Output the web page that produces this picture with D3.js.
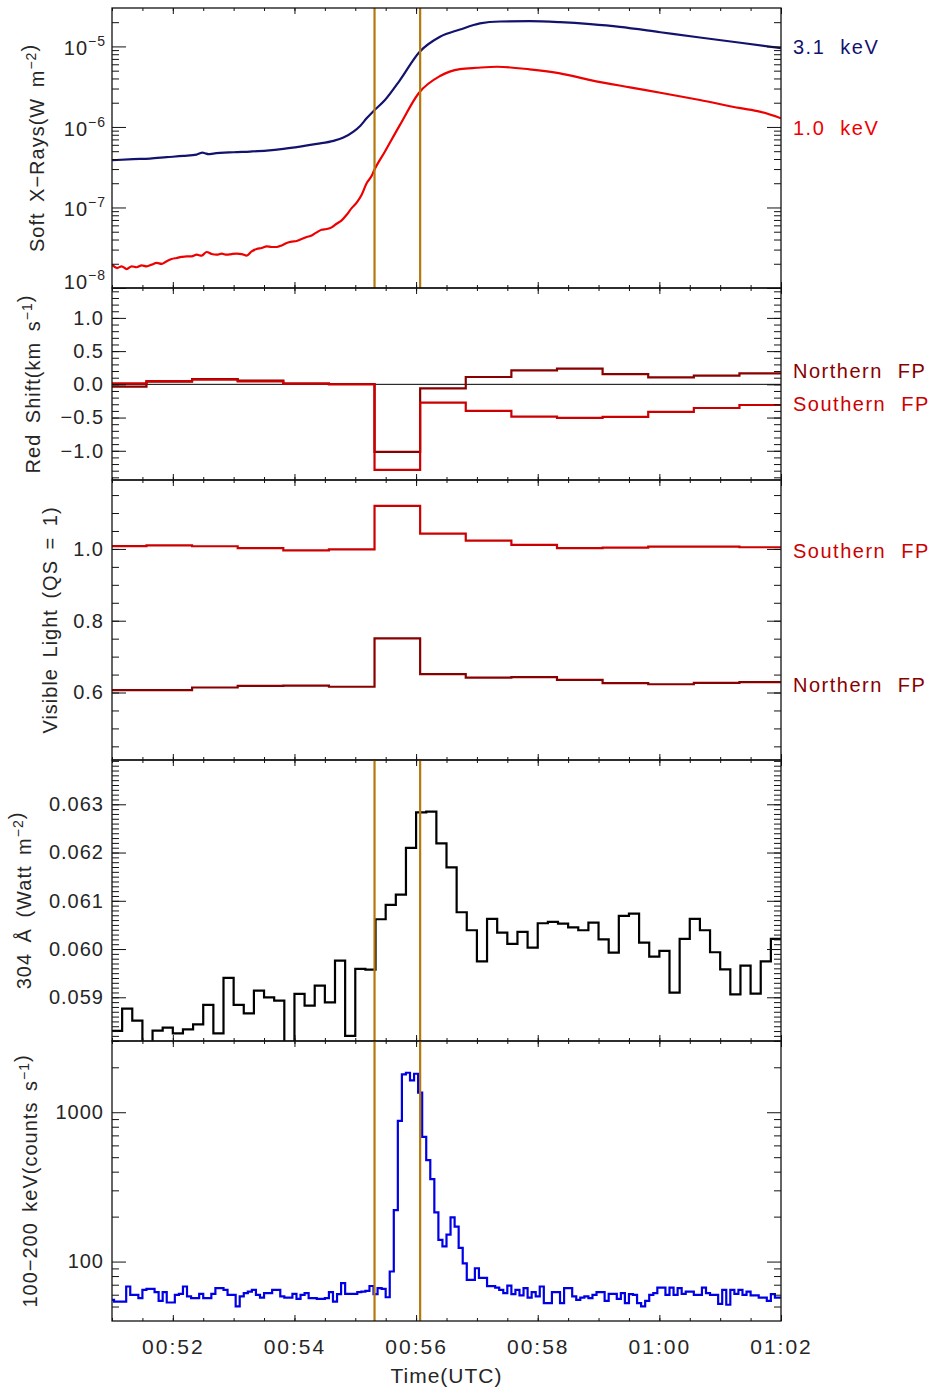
<!DOCTYPE html>
<html>
<head>
<meta charset="utf-8">
<title>Flare light curves</title>
<script src="https://cdn.jsdelivr.net/npm/d3@7"></script>
<style>
  body { margin: 0; background: #fff; }
  text { font-family: "Liberation Sans", Arial, sans-serif; fill: #262626; }
</style>
</head>
<body>
<svg id="chart" width="935" height="1392"></svg>
<script>
// ---------------- data ----------------
const startTime = "00:51:00";
const endTime = "01:02:00";
const xMajorTicks = ["00:52:00", "00:54:00", "00:56:00", "00:58:00", "01:00:00", "01:02:00"];
const flareLines = ["00:55:19", "00:56:04"];

// GOES soft X-rays (seconds after 00:51:00, W m^-2)
const goesHighSec = [0, 20.9, 37.4, 53.9, 70.4, 83.5, 86.8, 89.1, 91.8, 95.1, 100, 119.8, 136.2, 152.6, 169.1,
  185.5, 202, 218.4, 228.3, 238.2, 244.8, 251.2, 258.1, 269.3, 284.1, 302.9, 323.6, 343.3, 363, 383, 412,
  442, 472, 501, 541, 580, 620, 660];
const goesHighFlux = [3.86e-7, 3.98e-7, 4.05e-7, 4.21e-7, 4.37e-7, 4.54e-7, 4.72e-7, 4.81e-7, 4.72e-7, 4.59e-7,
  4.67e-7, 4.85e-7, 4.95e-7, 5.09e-7, 5.34e-7, 5.70e-7, 6.15e-7, 6.71e-7, 7.38e-7, 8.75e-7, 1.03e-6, 1.28e-6,
  1.58e-6, 2.16e-6, 3.82e-6, 8.42e-6, 1.32e-5, 1.62e-5, 1.93e-5, 2.04e-5, 2.06e-5, 2.00e-5, 1.89e-5, 1.75e-5,
  1.50e-5, 1.29e-5, 1.11e-5, 9.53e-6];

const goesLowSec = [0, 5, 9.5, 14.5, 19.4, 24.3, 29.3, 34.2, 39.1, 44.1, 49, 53.9, 58.9, 63.8, 68.7, 73.7, 78.6,
  83.5, 88.5, 93.4, 98.3, 103.3, 108.2, 113.1, 118.1, 123, 127.9, 132.9, 137.8, 142.7, 147.7, 152.6, 157.5,
  162.4, 167.4, 172.3, 177.2, 182.2, 187.1, 192, 197, 201.9, 206.8, 211.8, 216.7, 221.6, 226.6, 231.5, 236.4,
  241.4, 246.3, 251.2, 256.2, 258.1, 269.3, 284.1, 302.9, 323.6, 343.3, 360, 380, 412, 442, 472, 511, 541,
  580, 620, 639, 660];
const goesLowFlux = [1.95e-8, 1.77e-8, 1.86e-8, 1.72e-8, 1.86e-8, 1.81e-8, 1.91e-8, 1.86e-8, 1.95e-8, 2.05e-8,
  1.99e-8, 2.15e-8, 2.29e-8, 2.36e-8, 2.43e-8, 2.47e-8, 2.47e-8, 2.59e-8, 2.52e-8, 2.80e-8, 2.64e-8, 2.59e-8,
  2.67e-8, 2.59e-8, 2.64e-8, 2.67e-8, 2.64e-8, 2.52e-8, 2.85e-8, 3.05e-8, 3.14e-8, 3.29e-8, 3.23e-8, 3.23e-8,
  3.38e-8, 3.62e-8, 3.76e-8, 3.83e-8, 4.06e-8, 4.29e-8, 4.50e-8, 4.91e-8, 5.29e-8, 5.40e-8, 5.66e-8, 6.28e-8,
  6.91e-8, 8.12e-8, 9.82e-8, 1.15e-7, 1.44e-7, 2.00e-7, 2.47e-7, 2.80e-7, 4.95e-7, 1.06e-6, 2.66e-6, 4.29e-6,
  5.23e-6, 5.43e-6, 5.59e-6, 5.19e-6, 4.63e-6, 3.82e-6, 3.10e-6, 2.66e-6, 2.16e-6, 1.71e-6, 1.55e-6, 1.28e-6];

// HMI footpoints, 45 s bins (bin start times)
const hmiCadence = 45;
const hmiStarts = ["00:50:49", "00:51:34", "00:52:19", "00:53:04", "00:53:49", "00:54:34", "00:55:19", "00:56:04",
  "00:56:49", "00:57:34", "00:58:19", "00:59:04", "00:59:49", "01:00:34", "01:01:19"];
const northShift = [-0.035, 0.04, 0.08, 0.055, 0.01, 0.005, -1.017, -0.06, 0.11, 0.21, 0.235, 0.155, 0.105, 0.13, 0.165];
const southShift = [0.015, 0.05, 0.07, 0.045, 0.01, 0.0, -1.287, -0.276, -0.40, -0.486, -0.506, -0.49, -0.416, -0.356, -0.311];
const southVisible = [1.008, 1.010, 1.0075, 1.002, 0.996, 0.999, 1.12, 1.0425, 1.023, 1.011, 1.002, 1.0036, 1.0064, 1.0064, 1.0047];
const northVisible = [0.6067, 0.6067, 0.614, 0.6186, 0.6194, 0.616, 0.751, 0.651, 0.6417, 0.6428, 0.635, 0.626, 0.623, 0.627, 0.629];

// EVE 304 A, 10 s bins from 00:51:00 (W m^-2)
const euvCadence = 10;
const euv304 = [0.058302, 0.058765, 0.058516, 0.0579, 0.058309, 0.058370, 0.058254, 0.058337, 0.058440, 0.058841,
  0.058254, 0.059401, 0.058841, 0.058668, 0.059138, 0.059000, 0.058931, 0.0579, 0.059069, 0.058827,
  0.059242, 0.058896, 0.059760, 0.058199, 0.059587, 0.059573, 0.060617, 0.060914, 0.061128, 0.062095,
  0.062834, 0.062848, 0.062192, 0.061694, 0.060762, 0.060389, 0.059746, 0.060624, 0.060340, 0.060105,
  0.060354, 0.060029, 0.060534, 0.060561, 0.060527, 0.060451, 0.060389, 0.060548, 0.060202, 0.059926,
  0.060686, 0.060734, 0.060133, 0.059843, 0.059960, 0.059097, 0.060209, 0.060624, 0.060389, 0.059933,
  0.059580, 0.059062, 0.059656, 0.059076, 0.059746, 0.060209];

// RHESSI 100-200 keV, 4 s samples from 00:51:00 (counts s^-1)
const hxrCadence = 4;
const hxrCounts = [55.4, 54.0, 54.0, 54.0, 68.1, 59.9, 59.9, 56.9, 64.6, 65.7,
  65.7, 62.4, 54.6, 62.4, 53.2, 53.2, 59.9, 60.8, 68.1, 58.4,
  56.9, 56.9, 60.8, 56.9, 56.9, 60.8, 66.4, 66.4, 64.6, 59.9,
  59.9, 50.1, 58.4, 61.4, 63.0, 64.6, 59.9, 57.4, 61.4, 61.4,
  64.6, 64.6, 58.4, 57.4, 57.4, 60.8, 56.3, 59.9, 61.4, 56.9,
  56.9, 56.3, 56.3, 56.9, 62.4, 54.0, 60.5, 71.7, 60.8, 60.8,
  60.8, 62.4, 63.0, 63.6, 68.6, 60.5, 66.4, 65.7, 57.7, 85.8,
  221, 875, 1794, 1839, 1636, 1810, 1352, 684, 478, 357,
  213.5, 139.6, 126.6, 151.4, 197.7, 171.3, 123.7, 97.4, 75.4, 75.4,
  90.2, 77.8, 77.8, 68.4, 68.4, 66.9, 64.6, 61.4, 69.0, 60.5,
  64.6, 59.4, 66.4, 57.4, 62.4, 58.4, 68.1, 52.7, 52.7, 62.4,
  62.4, 52.7, 66.4, 66.4, 58.4, 55.4, 57.4, 58.4, 56.9, 59.9,
  62.4, 62.4, 54.6, 60.8, 60.8, 56.3, 61.4, 52.7, 60.5, 59.9,
  52.7, 50.1, 54.6, 59.9, 61.4, 67.0, 67.0, 59.9, 67.0, 59.9,
  66.4, 60.8, 63.0, 63.0, 59.9, 59.9, 67.0, 61.4, 59.9, 59.9,
  52.1, 64.6, 51.4, 64.6, 60.8, 64.6, 59.9, 63.0, 59.4, 59.4,
  57.4, 57.4, 54.6, 60.5, 57.4, 57.4];

// ---------------- layout ----------------
const colors = { navy: "#13136e", red: "#ee0000", north: "#880000", south: "#cc0000",
  euv: "#000000", hxr: "#0000e6", marker: "#b5780c" };
const plotLeft = 112, plotRight = 781;
const xMajorLen = 6, xMinorLen = 3, yMajorLen = 14, yMinorLen = 7;

const svg = d3.select("#chart");
const defs = svg.append("defs");
const parse = d3.utcParse("%H:%M:%S");
const t0 = parse(startTime);
const atSec = s => new Date(t0.getTime() + s * 1000);

const x = d3.scaleUtc().domain([t0, parse(endTime)]).range([plotLeft, plotRight]);
const xMajor = xMajorTicks.map(parse);
const xMinor = x.ticks(d3.utcSecond.every(30));

function makePanel(id, top, bottom) {
  defs.append("clipPath").attr("id", "clip-" + id)
    .append("rect").attr("x", plotLeft).attr("y", top)
    .attr("width", plotRight - plotLeft).attr("height", bottom - top);
  const g = svg.append("g").attr("class", "panel " + id);
  const plot = g.append("g").attr("clip-path", `url(#clip-${id})`);
  return { id, top, bottom, g, plot };
}

function styleAxis(sel, size, spacing) {
  sel.select(".domain").remove();
  sel.attr("font-size", null).attr("font-family", null);
  sel.selectAll("line").attr("stroke", "#111");
  sel.selectAll("text").style("font-size", size + "px").style("letter-spacing", spacing + "px").attr("fill", "#262626");
}

function drawAxes(p, y, yMajor, yMinor, yFormat, showXLabels) {
  const g = p.g;
  // x ticks, bottom and top, pointing inwards
  g.append("g").attr("transform", `translate(0,${p.bottom})`)
    .call(d3.axisBottom(x).tickValues(xMinor).tickSize(-xMinorLen).tickFormat(""))
    .call(a => styleAxis(a, 21, 2));
  g.append("g").attr("transform", `translate(0,${p.bottom})`)
    .call(d3.axisBottom(x).tickValues(xMajor).tickSize(-xMajorLen).tickPadding(18)
      .tickFormat(showXLabels ? d3.utcFormat("%H:%M") : ""))
    .call(a => styleAxis(a, 21, 2));
  g.append("g").attr("transform", `translate(0,${p.top})`)
    .call(d3.axisTop(x).tickValues(xMinor).tickSize(-xMinorLen).tickFormat(""))
    .call(a => styleAxis(a, 21, 2));
  g.append("g").attr("transform", `translate(0,${p.top})`)
    .call(d3.axisTop(x).tickValues(xMajor).tickSize(-xMajorLen).tickFormat(""))
    .call(a => styleAxis(a, 21, 2));

  // y ticks, left and right, pointing inwards
  g.append("g").attr("transform", `translate(${plotLeft},0)`)
    .call(d3.axisLeft(y).tickValues(yMinor).tickSize(-yMinorLen).tickFormat(""))
    .call(a => styleAxis(a, 20, 1));
  g.append("g").attr("transform", `translate(${plotLeft},0)`)
    .call(d3.axisLeft(y).tickValues(yMajor).tickSize(-yMajorLen).tickPadding(8).tickFormat(yFormat || ""))
    .call(a => styleAxis(a, 20, 1));
  g.append("g").attr("transform", `translate(${plotRight},0)`)
    .call(d3.axisRight(y).tickValues(yMinor).tickSize(-yMinorLen).tickFormat(""))
    .call(a => styleAxis(a, 20, 1));
  g.append("g").attr("transform", `translate(${plotRight},0)`)
    .call(d3.axisRight(y).tickValues(yMajor).tickSize(-yMajorLen).tickFormat(""))
    .call(a => styleAxis(a, 20, 1));

  g.append("rect")
    .attr("x", plotLeft).attr("y", p.top)
    .attr("width", plotRight - plotLeft).attr("height", p.bottom - p.top)
    .attr("fill", "none").attr("stroke", "#111").attr("stroke-width", 1.3);
}

// parts: plain strings, or ["sup", text] for a superscript
function yTitle(p, baselineX, parts) {
  const cy = (p.top + p.bottom) / 2;
  const t = p.g.append("text")
    .attr("transform", `translate(${baselineX},${cy}) rotate(-90)`)
    .attr("text-anchor", "middle")
    .style("font-size", "20px").style("letter-spacing", "1px").style("word-spacing", "4px");
  parts.forEach(part => {
    if (Array.isArray(part)) {
      t.append("tspan").attr("dy", -8).style("font-size", "14px").text(part[1]);
      t.append("tspan").attr("dy", 8).text("");
    } else {
      t.append("tspan").text(part);
    }
  });
}

function sideLabel(p, yPos, text, color) {
  p.g.append("text")
    .attr("x", plotRight + 12).attr("y", yPos)
    .attr("fill", color).style("fill", color)
    .style("font-size", "20px").style("letter-spacing", "1.5px").style("word-spacing", "8px")
    .text(text);
}

function markers(p) {
  p.plot.selectAll("line.marker")
    .data(flareLines.map(parse))
    .join("line")
    .attr("class", "marker")
    .attr("x1", d => x(d)).attr("x2", d => x(d))
    .attr("y1", p.top).attr("y2", p.bottom)
    .attr("stroke", colors.marker).attr("stroke-width", 2.2);
}

function hmiSteps(values) {
  const pts = hmiStarts.map((s, i) => [parse(s), values[i]]);
  const last = pts[pts.length - 1];
  pts.push([new Date(last[0].getTime() + hmiCadence * 1000), last[1]]);
  return pts;
}

// ---------------- panel 1: GOES ----------------
const p1 = makePanel("goes", 8, 288);
const y1 = d3.scaleLog().domain([1e-8, 3e-5]).range([p1.bottom, p1.top]);
const y1Major = [1e-8, 1e-7, 1e-6, 1e-5];
const y1Minor = [];
[1e-8, 1e-7, 1e-6, 1e-5].forEach(dec => d3.range(2, 10).forEach(m => { if (m * dec <= 3e-5) y1Minor.push(m * dec); }));
drawAxes(p1, y1, y1Major, y1Minor, null, false);
y1Major.forEach(v => {
  const t = p1.g.append("text")
    .attr("x", 106).attr("y", y1(v) + 9 - (v === 1e-8 ? 8 : 0))
    .attr("text-anchor", "end")
    .style("font-size", "20px").style("letter-spacing", "1px");
  t.append("tspan").text("10");
  t.append("tspan").attr("dy", -9).style("font-size", "14px").text("−" + Math.round(-Math.log10(v)));
});

const goesLine = d3.line().x(d => x(d[0])).y(d => y1(d[1])).curve(d3.curveMonotoneX);
p1.plot.append("path")
  .datum(goesHighSec.map((s, i) => [atSec(s), goesHighFlux[i]]))
  .attr("d", goesLine).attr("fill", "none").attr("stroke", colors.navy).attr("stroke-width", 2.2);
p1.plot.append("path")
  .datum(goesLowSec.map((s, i) => [atSec(s), goesLowFlux[i]]))
  .attr("d", goesLine).attr("fill", "none").attr("stroke", colors.red).attr("stroke-width", 2.2);
markers(p1);
yTitle(p1, 44, ["Soft X−Rays(W m", ["sup", "−2"], ")"]);
sideLabel(p1, y1(goesHighFlux[goesHighFlux.length - 1]) + 6, "3.1 keV", colors.navy);
sideLabel(p1, y1(goesLowFlux[goesLowFlux.length - 1]) + 17, "1.0 keV", colors.red);

// ---------------- panel 2: Doppler shift ----------------
const p2 = makePanel("doppler", 288, 480);
const y2 = d3.scaleLinear().domain([-1.44, 1.45]).range([p2.bottom, p2.top]);
const y2Major = [-1.0, -0.5, 0.0, 0.5, 1.0];
const y2Minor = d3.range(-14, 15).map(d => d / 10);
drawAxes(p2, y2, y2Major, y2Minor, d3.format(".1f"), false);
p2.plot.append("line")
  .attr("x1", plotLeft).attr("x2", plotRight)
  .attr("y1", y2(0)).attr("y2", y2(0))
  .attr("stroke", "#000").attr("stroke-width", 1);
const stepLine2 = d3.line().x(d => x(d[0])).y(d => y2(d[1])).curve(d3.curveStepAfter);
p2.plot.append("path").datum(hmiSteps(northShift))
  .attr("d", stepLine2).attr("fill", "none").attr("stroke", colors.north).attr("stroke-width", 2.2);
p2.plot.append("path").datum(hmiSteps(southShift))
  .attr("d", stepLine2).attr("fill", "none").attr("stroke", colors.south).attr("stroke-width", 2.2);
yTitle(p2, 40, ["Red Shift(km s", ["sup", "−1"], ")"]);
sideLabel(p2, y2(northShift[northShift.length - 1]) + 5, "Northern FP", colors.north);
sideLabel(p2, y2(southShift[southShift.length - 1]) + 6, "Southern FP", colors.south);

// ---------------- panel 3: visible continuum ----------------
const p3 = makePanel("visible", 480, 760);
const y3 = d3.scaleLinear().domain([0.412, 1.192]).range([p3.bottom, p3.top]);
const y3Major = [0.6, 0.8, 1.0];
const y3Minor = d3.range(9, 24).map(d => d / 20);
drawAxes(p3, y3, y3Major, y3Minor, d3.format(".1f"), false);
const stepLine3 = d3.line().x(d => x(d[0])).y(d => y3(d[1])).curve(d3.curveStepAfter);
p3.plot.append("path").datum(hmiSteps(southVisible))
  .attr("d", stepLine3).attr("fill", "none").attr("stroke", colors.south).attr("stroke-width", 2.2);
p3.plot.append("path").datum(hmiSteps(northVisible))
  .attr("d", stepLine3).attr("fill", "none").attr("stroke", colors.north).attr("stroke-width", 2.2);
yTitle(p3, 57, ["Visible Light (QS = 1)"]);
sideLabel(p3, y3(southVisible[southVisible.length - 1]) + 11, "Southern FP", colors.south);
sideLabel(p3, y3(northVisible[northVisible.length - 1]) + 10, "Northern FP", colors.north);

// ---------------- panel 4: 304 A ----------------
const p4 = makePanel("euv", 760, 1041);
const y4 = d3.scaleLinear().domain([0.058094, 0.063918]).range([p4.bottom, p4.top]);
const y4Major = [0.059, 0.060, 0.061, 0.062, 0.063];
const y4Minor = d3.range(581, 640).map(d => d / 10000);
drawAxes(p4, y4, y4Major, y4Minor, d3.format(".3f"), false);
const euvPts = euv304.map((v, i) => [atSec(i * euvCadence), v]);
euvPts.push([atSec(euv304.length * euvCadence), euv304[euv304.length - 1]]);
p4.plot.append("path").datum(euvPts)
  .attr("d", d3.line().x(d => x(d[0])).y(d => y4(d[1])).curve(d3.curveStepAfter))
  .attr("fill", "none").attr("stroke", colors.euv).attr("stroke-width", 2.2);
markers(p4);
yTitle(p4, 31, ["304 Å (Watt m", ["sup", "−2"], ")"]);

// ---------------- panel 5: hard X-rays ----------------
const p5 = makePanel("hxr", 1041, 1321);
const y5 = d3.scaleLog().domain([40, 3000]).range([p5.bottom, p5.top]);
const y5Major = [100, 1000];
const y5Minor = [50, 60, 70, 80, 90, 200, 300, 400, 500, 600, 700, 800, 900, 2000, 3000];
drawAxes(p5, y5, y5Major, y5Minor, d3.format("d"), true);
p5.plot.append("path")
  .datum(hxrCounts.map((v, i) => [atSec(i * hxrCadence), v]))
  .attr("d", d3.line().x(d => x(d[0])).y(d => y5(d[1])).curve(d3.curveStep))
  .attr("fill", "none").attr("stroke", colors.hxr).attr("stroke-width", 2.2);
markers(p5);
yTitle(p5, 37, ["100−200 keV(counts s", ["sup", "−1"], ")"]);

svg.append("text")
  .attr("x", (plotLeft + plotRight) / 2).attr("y", 1383)
  .attr("text-anchor", "middle")
  .style("font-size", "21px").style("letter-spacing", "1px")
  .text("Time(UTC)");
</script>
</body>
</html>
